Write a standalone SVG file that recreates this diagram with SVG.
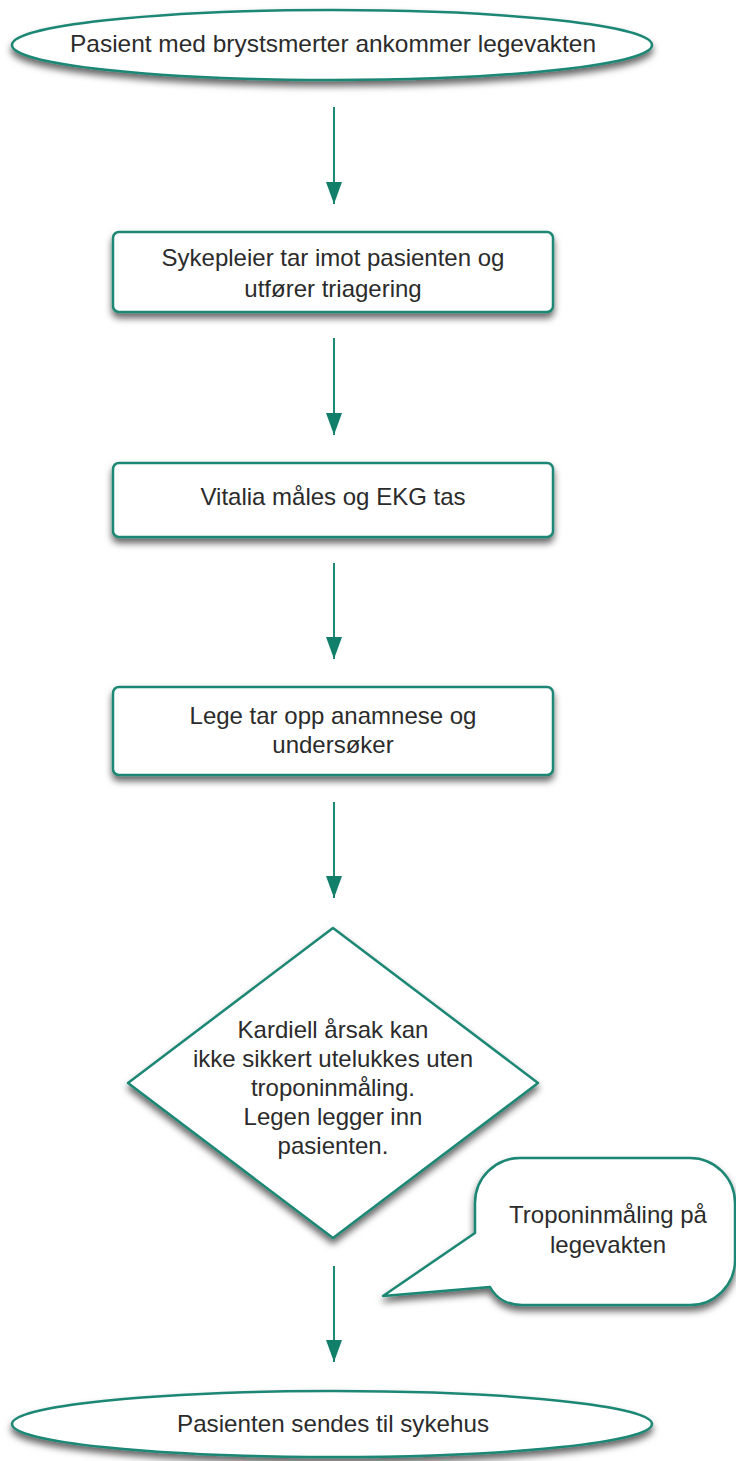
<svg xmlns="http://www.w3.org/2000/svg" width="736" height="1461" viewBox="0 0 736 1461">
<defs>
<filter id="sh" x="-10%" y="-20%" width="120%" height="150%" filterUnits="objectBoundingBox">
<feGaussianBlur in="SourceAlpha" stdDeviation="3.5"/>
<feOffset dx="0" dy="5" result="b"/>
<feFlood flood-color="#000" flood-opacity="0.6"/>
<feComposite in2="b" operator="in"/>
<feMerge><feMergeNode/><feMergeNode in="SourceGraphic"/></feMerge>
</filter>
<marker id="ah" markerWidth="22" markerHeight="16" refX="22" refY="8" orient="auto" markerUnits="userSpaceOnUse" viewBox="0 0 22 16">
<path d="M0 0 L22 8 L0 16 Z" fill="#127f6b"/>
</marker>
<style>
.n{fill:#fff;stroke:#1d8775;stroke-width:2.5}
.t{font-family:"Liberation Sans",Arial,sans-serif;font-size:24px;fill:#2b2b2b;text-anchor:middle}
.c{stroke:#1d8a77;stroke-width:2;fill:none;marker-end:url(#ah)}
</style>
</defs>
<g id="connectors">
<line class="c" x1="334" y1="107" x2="334" y2="204"/>
<line class="c" x1="334" y1="338" x2="334" y2="435"/>
<line class="c" x1="334" y1="563" x2="334" y2="659"/>
<line class="c" x1="334" y1="802" x2="334" y2="898"/>
<line class="c" x1="334" y1="1266" x2="334" y2="1362"/>
</g>
<g id="start">
<ellipse class="n" filter="url(#sh)" cx="332" cy="45" rx="320" ry="35"/>
<text class="t" x="333" y="52" textLength="526" lengthAdjust="spacingAndGlyphs">Pasient med brystsmerter ankommer legevakten</text>
</g>
<g id="triage">
<rect class="n" filter="url(#sh)" x="113" y="232" width="440" height="80" rx="6"/>
<text class="t" x="333" y="266">Sykepleier tar imot pasienten og</text>
<text class="t" x="333" y="297">utfører triagering</text>
</g>
<g id="vitals">
<rect class="n" filter="url(#sh)" x="113" y="463" width="440" height="74" rx="6"/>
<text class="t" x="333" y="505">Vitalia måles og EKG tas</text>
</g>
<g id="doctor">
<rect class="n" filter="url(#sh)" x="113" y="687" width="440" height="88" rx="6"/>
<text class="t" x="333" y="724">Lege tar opp anamnese og</text>
<text class="t" x="333" y="753">undersøker</text>
</g>
<g id="decision">
<path class="n" filter="url(#sh)" d="M333 928 L538 1083 L333 1238 L128 1083 Z" stroke-linejoin="round"/>
<text class="t" x="333" y="1038">Kardiell årsak kan</text>
<text class="t" x="333" y="1067">ikke sikkert utelukkes uten</text>
<text class="t" x="333" y="1096">troponinmåling.</text>
<text class="t" x="333" y="1125">Legen legger inn</text>
<text class="t" x="333" y="1154">pasienten.</text>
</g>
<g id="callout">
<path class="n" filter="url(#sh)" d="M520 1158 H690 A45 45 0 0 1 735 1203 V1260 A45 45 0 0 1 690 1305 H522 Q500 1305 490 1287 L383 1296 L475 1233 V1203 A45 45 0 0 1 520 1158 Z" stroke-linejoin="round"/>
<text class="t" x="608" y="1223">Troponinmåling på</text>
<text class="t" x="608" y="1253">legevakten</text>
</g>
<g id="end">
<ellipse class="n" filter="url(#sh)" cx="332" cy="1424" rx="320" ry="33"/>
<text class="t" x="333" y="1432" textLength="312" lengthAdjust="spacingAndGlyphs">Pasienten sendes til sykehus</text>
</g>
</svg>
